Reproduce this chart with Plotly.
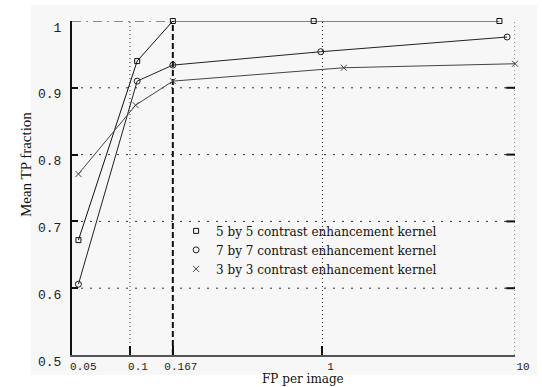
import plotly.graph_objects as go
import math

# ---- data ----
fp_5x5 = [0.054, 0.109, 0.167, 0.90, 8.3]
tp_5x5 = [0.672, 0.940, 1.000, 1.000, 1.000]

fp_7x7 = [0.054, 0.109, 0.167, 0.98, 9.1]
tp_7x7 = [0.606, 0.910, 0.934, 0.954, 0.976]

fp_3x3 = [0.054, 0.107, 0.167, 1.29, 10.0]
tp_3x3 = [0.771, 0.874, 0.910, 0.930, 0.936]

series_names = ["5 by 5 contrast enhancement kernel",
                "7 by 7 contrast enhancement kernel",
                "3 by 3 contrast enhancement kernel"]

x_tick_vals = [0.05, 0.1, 0.167, 1, 10]
x_tick_text = ["\u00a00.05", "0.1", "0.167", "1", "10"]
y_tick_vals = [0.5, 0.6, 0.7, 0.8, 0.9, 1.0]
y_tick_text = ["0.5", "0.6", "0.7", "0.8", "0.9", "1"]

x_min, x_max = 0.05, 10
y_min, y_max = 0.5, 1.0
h_dotted = [0.6, 0.7, 0.8, 0.9]
v_dotted = [0.1, 1, 10]
v_dashed = 0.167

fig = go.Figure()

specs = [
    (fp_5x5, tp_5x5, "square-open", "#111111", 5),
    (fp_7x7, tp_7x7, "circle-open", "#222222", 6),
    (fp_3x3, tp_3x3, "x-thin-open", "#444444", 6),
]
for (xs, ys, sym, col, sz), name in zip(specs, series_names):
    fig.add_trace(go.Scatter(
        x=xs, y=ys, mode="lines+markers", showlegend=False,
        line=dict(color=col, width=1),
        marker=dict(symbol=sym, size=sz, color=col, line=dict(width=1, color=col)),
        cliponaxis=False,
    ))
for (xs, ys, sym, col, sz), name in zip(specs, series_names):
    fig.add_trace(go.Scatter(
        x=[None], y=[None], mode="markers", name=name, showlegend=True,
        marker=dict(symbol=sym, size=sz, color=col, line=dict(width=1, color=col)),
    ))

shapes = []
# light background panel
shapes.append(dict(type="rect", xref="paper", yref="paper",
                   x0=-0.093, x1=1.05, y0=-0.06, y1=1.048,
                   fillcolor="#f7f7f7", line=dict(width=0), layer="below"))
for yv in h_dotted:
    shapes.append(dict(type="line", xref="x", yref="y",
                       x0=x_min, x1=x_max, y0=yv, y1=yv,
                       line=dict(color="#333", width=1, dash="2px,7px"), layer="below"))
for xv in v_dotted:
    shapes.append(dict(type="line", xref="x", yref="y",
                       x0=xv, x1=xv, y0=y_min, y1=y_max,
                       line=dict(color="#333", width=1, dash="1px,3px"), layer="below"))
shapes.append(dict(type="line", xref="x", yref="y",
                   x0=v_dashed, x1=v_dashed, y0=y_min, y1=y_max,
                   line=dict(color="#111", width=2, dash="6px,3px"), layer="below"))
shapes.append(dict(type="line", xref="x", yref="y",
                   x0=x_min, x1=v_dashed, y0=y_max, y1=y_max,
                   line=dict(color="#222", width=1, dash="9px,5px,2px,5px"), layer="below"))
# right-side inner ticks
for yv in h_dotted:
    shapes.append(dict(type="line", xref="paper", yref="y",
                       x0=0.98, x1=1.0, y0=yv, y1=yv,
                       line=dict(color="#111", width=2)))

annotations = [
    dict(text="Mean TP fraction", textangle=-90, xref="paper", yref="paper",
         x=-0.105, y=0.57, xanchor="center", yanchor="middle", showarrow=False,
         font=dict(family="Liberation Serif", size=15, color="#111")),
    dict(text="FP per image", xref="paper", yref="paper",
         x=0.522, y=-0.0958, xanchor="center", yanchor="bottom", showarrow=False,
         borderpad=0,
         font=dict(family="DejaVu Serif", size=12, color="#111")),
]

fig.update_layout(
    width=542, height=387,
    margin=dict(l=72, r=20, t=21, b=32),
    paper_bgcolor="white",
    plot_bgcolor="rgba(0,0,0,0)",
    shapes=shapes,
    annotations=annotations,
    legend=dict(x=0.235, y=0.415, xanchor="left", yanchor="top",
                bgcolor="rgba(0,0,0,0)", borderwidth=0,
                font=dict(family="DejaVu Serif", size=12, color="#111"),
                tracegroupgap=0, itemwidth=30),
    xaxis=dict(type="log", range=[math.log10(x_min), math.log10(x_max)],
               tickvals=x_tick_vals, ticktext=x_tick_text,
               showgrid=False, zeroline=False,
               showline=True, linecolor="#555", linewidth=2,
               ticks="inside", ticklen=9, tickwidth=2, tickcolor="#111",
               ticklabelshift=8, ticklabelstandoff=0,
               tickfont=dict(family="Liberation Mono", size=11, color="#222")),
    yaxis=dict(range=[y_min, y_max],
               tickvals=y_tick_vals, ticktext=y_tick_text,
               showgrid=False, zeroline=False,
               showline=True, linecolor="#111", linewidth=2,
               ticks="inside", ticklen=6, tickwidth=2, tickcolor="#111",
               ticklabelshift=6, ticklabelstandoff=6,
               tickfont=dict(family="Liberation Mono", size=13, color="#222")),
)

fig.write_html("out.html")
